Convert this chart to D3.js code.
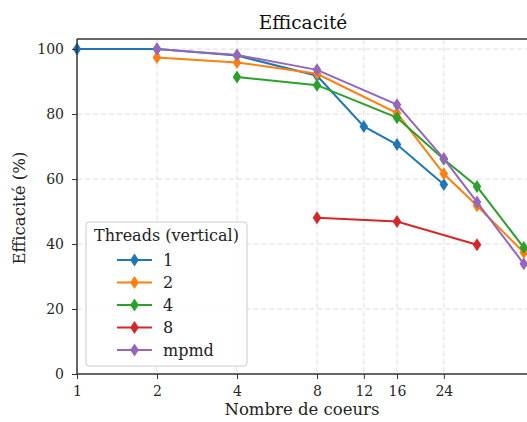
<!DOCTYPE html>
<html>
<head>
<meta charset="utf-8">
<script src="https://cdn.jsdelivr.net/npm/d3@7"></script>
<style>
  body { margin: 0; background: #fff; }
  svg { display: block; font-family: "DejaVu Serif", serif; }
  .grid line { stroke: #d9d9d9; stroke-dasharray: 5,3; stroke-width: 0.9; }
  .tick text { font-size: 14px; fill: #262626; font-family: "DejaVu Serif", serif; }
</style>
</head>
<body>
<svg width="527" height="422"></svg>
<script>
const width = 527;
const height = 422;

// data
const xTicks = [1, 2, 4, 8, 12, 16, 24];
const yTicks = [0, 20, 40, 60, 80, 100];
const seriesNames = ["1", "2", "4", "8", "mpmd"];
const colors = ["#1f77b4", "#ff7f0e", "#2ca02c", "#d62728", "#9467bd"];

const cores1 = [1, 2, 4, 8, 12, 16, 24];
const eff1 = [100, 100, 98, 91.8, 76.2, 70.6, 58.3];
const cores2 = [2, 4, 8, 16, 24, 32, 48];
const eff2 = [97.4, 95.9, 92.4, 80.3, 61.6, 51.8, 37.4];
const cores4 = [4, 8, 16, 24, 32, 48];
const eff4 = [91.4, 88.9, 78.9, 66.1, 57.7, 38.9];
const cores8 = [8, 16, 32];
const eff8 = [48.1, 46.9, 39.8];
const coresMpmd = [2, 4, 8, 16, 24, 32, 48];
const effMpmd = [100, 98.2, 93.6, 82.9, 66.3, 52.9, 33.9];

const series = [
  { name: seriesNames[0], x: cores1, y: eff1 },
  { name: seriesNames[1], x: cores2, y: eff2 },
  { name: seriesNames[2], x: cores4, y: eff4 },
  { name: seriesNames[3], x: cores8, y: eff8 },
  { name: seriesNames[4], x: coresMpmd, y: effMpmd },
];

const margin = { left: 77, top: 39, bottom: 374 };

const svg = d3.select("svg");

// log2 axis, 80px per doubling, runs past the right edge of the picture
const x = d3.scaleLog().base(2).domain([1, 64]).range([margin.left, margin.left + 80 * 6]);
const y = d3.scaleLinear().domain([0, 103.1]).range([margin.bottom, margin.top]);

// grid
svg.append("g")
  .attr("class", "grid")
  .selectAll("line.v")
  .data(xTicks.slice(1))
  .enter()
  .append("line")
  .attr("x1", (d) => x(d))
  .attr("x2", (d) => x(d))
  .attr("y1", margin.top)
  .attr("y2", margin.bottom);

svg.append("g")
  .attr("class", "grid")
  .selectAll("line.h")
  .data(yTicks.slice(1))
  .enter()
  .append("line")
  .attr("x1", margin.left)
  .attr("x2", width)
  .attr("y1", (d) => y(d))
  .attr("y2", (d) => y(d));

// lines and markers
const line = d3.line().x((d) => x(d[0])).y((d) => y(d[1]));
const diamond = (s) => `M0,${-6.5 * s}L${4.3 * s},0L0,${6.5 * s}L${-4.3 * s},0Z`;

const plot = svg.append("g");
series.forEach((s, i) => {
  const pts = s.x.map((v, j) => [v, s.y[j]]);
  plot.append("path")
    .datum(pts)
    .attr("d", line)
    .attr("fill", "none")
    .attr("stroke", colors[i])
    .attr("stroke-width", 2);
  plot.selectAll(null)
    .data(pts)
    .enter()
    .append("path")
    .attr("d", diamond(1))
    .attr("transform", (d) => `translate(${x(d[0])},${y(d[1])})`)
    .attr("fill", colors[i]);
});

// axes
const xAxis = svg.append("g")
  .attr("transform", `translate(0,${margin.bottom})`)
  .call(d3.axisBottom(x).tickValues(xTicks).tickFormat(d3.format("d"))
    .tickSizeOuter(0).tickSize(5).tickPadding(4));
const yAxis = svg.append("g")
  .attr("transform", `translate(${margin.left},0)`)
  .call(d3.axisLeft(y).tickValues(yTicks).tickSizeOuter(0).tickSize(5).tickPadding(8));
[xAxis, yAxis].forEach((a) => {
  a.select(".domain").remove();
  a.selectAll(".tick line").attr("stroke", "#333");
});
xAxis.selectAll(".tick text").attr("dy", "0.9em");

// spines
svg.append("line").attr("x1", margin.left).attr("x2", margin.left)
  .attr("y1", margin.top).attr("y2", margin.bottom).attr("stroke", "#333").attr("stroke-width", 1.5);
svg.append("line").attr("x1", margin.left).attr("x2", width)
  .attr("y1", margin.bottom).attr("y2", margin.bottom).attr("stroke", "#333").attr("stroke-width", 1.5);
svg.append("line").attr("x1", margin.left).attr("x2", width)
  .attr("y1", margin.top).attr("y2", margin.top).attr("stroke", "#333").attr("stroke-width", 1.5);

// texts
svg.append("text").attr("x", 303).attr("y", 29).attr("text-anchor", "middle")
  .attr("font-size", 18.5).attr("fill", "#111").text("Efficacité");
svg.append("text").attr("x", 302).attr("y", 415).attr("text-anchor", "middle")
  .attr("font-size", 16.5).attr("fill", "#222").text("Nombre de coeurs");
svg.append("text").attr("transform", "translate(25,208) rotate(-90)").attr("text-anchor", "middle")
  .attr("font-size", 16.5).attr("fill", "#222").text("Efficacité (%)");

// legend
const legend = svg.append("g").attr("transform", "translate(86,222)");
legend.append("rect").attr("width", 161).attr("height", 144).attr("rx", 3)
  .attr("fill", "#fff").attr("fill-opacity", 0.85).attr("stroke", "#ccc");
legend.append("text").attr("x", 80.5).attr("y", 19).attr("text-anchor", "middle")
  .attr("font-size", 16).attr("fill", "#222").text("Threads (vertical)");
const entry = legend.selectAll("g.entry")
  .data(seriesNames)
  .enter()
  .append("g")
  .attr("transform", (d, i) => `translate(0,${38 + i * 22.5})`);
entry.append("line").attr("x1", 31).attr("x2", 66)
  .attr("stroke", (d, i) => colors[i]).attr("stroke-width", 2);
entry.append("path").attr("d", diamond(1)).attr("transform", "translate(48.5,0)")
  .attr("fill", (d, i) => colors[i]);
entry.append("text").attr("x", 77).attr("dy", "0.35em")
  .attr("font-size", 16).attr("fill", "#222").text((d) => d);
</script>
</body>
</html>
